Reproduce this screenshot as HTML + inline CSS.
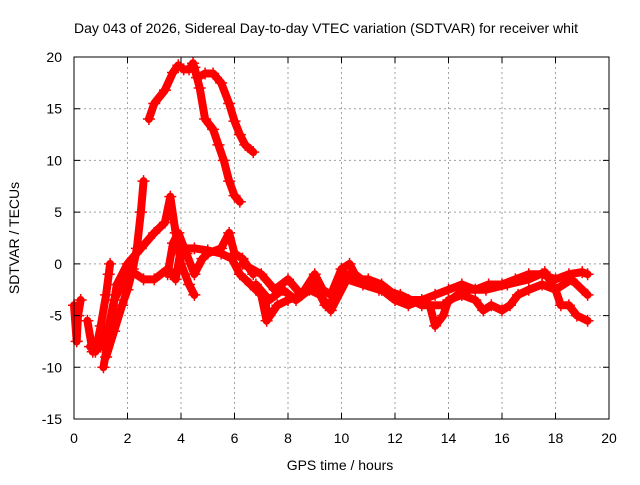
<!DOCTYPE html>
<html><head><meta charset="utf-8"><style>
body{margin:0;background:#fff}
svg text{font-family:"Liberation Sans",sans-serif;font-size:14px;fill:#000}
</style></head><body>
<svg id="c" width="640" height="480">
<text x="326" y="33" text-anchor="middle">Day 043 of 2026, Sidereal Day-to-day VTEC variation (SDTVAR) for receiver whit</text>
<text x="340" y="470" text-anchor="middle">GPS time / hours</text>
<text transform="translate(19,238) rotate(-90)" text-anchor="middle">SDTVAR / TECUs</text>
<g id="grid"></g><g id="data"></g><g id="axes"></g>
</svg>
<script>
const xTicks=[0,2,4,6,8,10,12,14,16,18,20];
const yTicks=[-15,-10,-5,0,5,10,15,20];
const s1x=[2.8,3.0,3.4,3.7,3.9,4.1,4.3,4.45,4.6,4.9,5.2,5.5,5.8,6.0,6.2,6.4,6.7];
const s1y=[14,15.5,16.8,18.5,19.2,18.8,18.8,19.4,18,18.4,18.4,17.5,15.5,13.8,12.5,11.5,10.8];
const s2x=[4.5,4.7,4.9,5.2,5.4,5.6,5.8,6.0,6.2];
const s2y=[19,17,14,13,11.5,10,8,6.6,6];
const s3x=[1.2,1.5,1.8,2.0,2.2,2.35,2.5,2.6];
const s3y=[-9,-6.5,-4,-2.5,-0.5,1.5,5,8];
const s4x=[0,0.1,0.15,0.25];
const s4y=[-4,-7.5,-5,-3.5];
const s5x=[0.5,0.7,1.0,1.3,1.5,1.8,2.2,2.6,3.0,3.5,3.8,4.0,4.5,5.0,5.5,5.9,6.2,6.6,7.0,7.3];
const s5y=[-5.5,-8.5,-8,-6,-3.5,-2,-0.8,-1.5,-1.5,-0.5,-1.5,1.5,1.5,1.3,1,0.5,-1,-2,-3,-5];
const s6x=[1.1,1.3,1.6,2.0,2.5,3.0,3.4,3.6,3.8,4.0,4.3,4.5];
const s6y=[-10,-7,-2,0,1.5,3,4,6.5,3,0,-2,-3];
const s7x=[0.6,0.8,1.0,1.2,1.3,1.35];
const s7y=[-8,-8.5,-6,-3,-1,0];
const s8x=[3.5,3.7,3.9,4.2,4.5,4.8,5.0,5.5,5.8,6.0,6.3,6.7];
const s8y=[-1,2,3,1,-1,0.5,1,1.5,3,1,0.5,-1];
const aX=[6.3,7,7.5,8,8.5,9,9.3,9.6,10,10.3,10.6,11,11.5,12,12.5,13,13.5,14,14.5,15,15.5,16,16.5,17,17.5,18,18.5,19,19.2];
const aY=[0,-1,-2.5,-1.5,-3,-1,-2.5,-3,-0.5,0,-1.5,-1.5,-2,-3,-3.5,-3.5,-3,-2.5,-2,-2.5,-2,-2,-1.5,-1,-1,-1.5,-1,-0.8,-1];
const bX=[7,7.2,7.6,8,8.5,9,9.4,9.7,10,10.5,11,11.5,12,12.5,13,13.3,13.5,13.8,14,14.5,15,15.3,15.6,16,16.3,16.6,17,17.5,18,18.2,18.5,18.8,19.2];
const bY=[-3,-5.5,-4,-3.5,-3,-2,-4,-3.5,-1,-1,-2,-2.5,-3.5,-4,-3.5,-4,-6,-5,-3.5,-3,-3.5,-4.5,-4,-4.5,-4,-3,-2.5,-2,-2.5,-4,-4,-5,-5.5];
const cX=[6.8,7.3,7.8,8.3,8.8,9.2,9.6,10.2,10.8,11.4,12.2,13.0,13.8,14.6,15.4,16.2,17.0,17.6,18.0,18.6,19.2];
const cY=[-2,-3.5,-2.5,-3.5,-2.5,-3,-4.5,-1.5,-2,-2.5,-3,-4,-4,-2.5,-2.5,-2,-1.5,-0.8,-2.5,-1.5,-3];
const series=[[s1x,s1y],[s2x,s2y],[s3x,s3y],[s4x,s4y],[s5x,s5y],[s6x,s6y],[s7x,s7y],[s8x,s8y],[aX,aY],[bX,bY],[cX,cY]];
const X0=74,X1=609,Y0=419,Y1=57;
const xs=v=>X0+(v-0)/20*(X1-X0);
const ys=v=>Y0-(v+15)/35*(Y0-Y1);
const NS="http://www.w3.org/2000/svg";
function mk(t,a,p){const e=document.createElementNS(NS,t);for(const k in a)e.setAttribute(k,a[k]);p.appendChild(e);return e;}
const grid=document.getElementById('grid'),axes=document.getElementById('axes'),data=document.getElementById('data');
xTicks.forEach(t=>{const x=xs(t);
 if(t>0&&t<20){const g=mk('line',{x1:x,x2:x,y1:Y1,y2:Y0,stroke:'#a0a0a0','stroke-dasharray':'2,3'},grid);
 }
 const tk=mk('path',{d:`M${x},${Y0}v-6M${x},${Y1}v6`,stroke:'#000'},axes);
 
 const l=mk('text',{x:x,y:443,'text-anchor':'middle'},axes);l.textContent=t;
 });
yTicks.forEach(t=>{const y=ys(t);
 if(t>-15&&t<20){const g=mk('line',{x1:X0,x2:X1,y1:y,y2:y,stroke:'#a0a0a0','stroke-dasharray':'2,3'},grid);
 }
 const tk=mk('path',{d:`M${X0},${y}h6M${X1},${y}h-6`,stroke:'#000'},axes);
 
 const l=mk('text',{x:62,y:y+5,'text-anchor':'end'},axes);l.textContent=t;
 });
const box=mk('rect',{x:X0,y:Y1,width:X1-X0,height:Y0-Y1,fill:'none',stroke:'#000'},axes);

series.forEach(([sx,sy])=>{
 const pts=sx.map((v,i)=>xs(v)+','+ys(sy[i])).join(' ');
 const pl=mk('polyline',{points:pts,fill:'none',stroke:'#ff0000','stroke-width':8,'stroke-linejoin':'round','stroke-linecap':'round'},data);
 
 sx.forEach((v,i)=>{const x=xs(v),y=ys(sy[i]);
  const m=mk('path',{d:`M${x-6},${y}h12M${x},${y-6}v12`,stroke:'#ff0000','stroke-width':1.5},data);
  });
});
</script>
</body></html>
